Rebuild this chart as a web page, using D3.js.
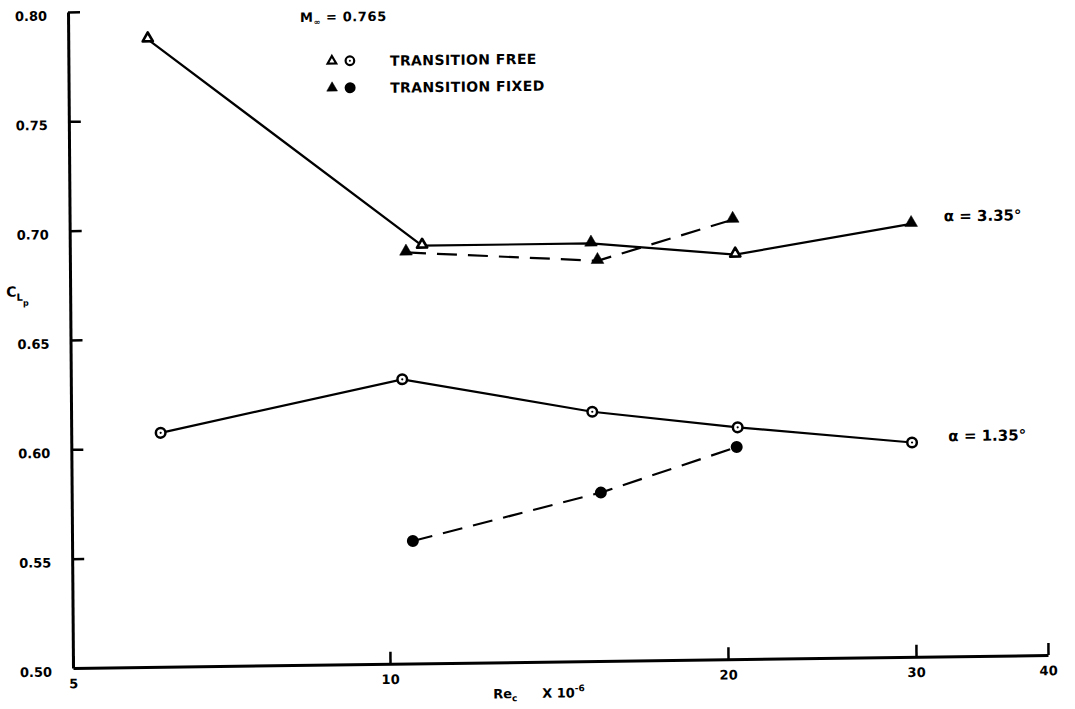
<!DOCTYPE html>
<html><head><meta charset="utf-8">
<script src="https://cdn.jsdelivr.net/npm/d3@7"></script>
<style>
body{margin:0;background:#fff}
text{font-family:"DejaVu Sans","Liberation Sans",Arial,sans-serif;font-weight:bold;fill:#000}
</style>
</head><body><svg id="c" width="1075" height="709"></svg>
<script>
// ---- data ----
const xTickValues = [5, 10, 20, 30, 40];
const xTickLabels = ["5", "10", "20", "30", "40"];
const yTickValues = [0.50, 0.55, 0.60, 0.65, 0.70, 0.75, 0.80];
const yTickLabels = ["0.50", "0.55", "0.60", "0.65", "0.70", "0.75", "0.80"];

// alpha = 3.35 deg
const a335FreeRe  = [5.95, 10.75, 15.2, 20.45, 29.9];
const a335FreeCl  = [0.787, 0.691, 0.691, 0.685, 0.698];
const a335FixedRe = [10.4, 15.4, 20.35];
const a335FixedCl = [0.688, 0.683, 0.701];
// alpha = 1.35 deg
const a135FreeRe  = [6.08, 10.3, 15.2, 20.5, 29.85];
const a135FreeCl  = [0.607, 0.630, 0.614, 0.606, 0.598];
const a135FixedRe = [10.5, 15.45, 20.45];
const a135FixedCl = [0.556, 0.577, 0.597];

const seriesLabels = ["\u03B1 = 3.35\u00B0", "\u03B1 = 1.35\u00B0"];
const legendLabels = ["TRANSITION FREE", "TRANSITION FIXED"];
const machLabel = "0.765";

// ---- drawing ----
const zip = (xs, ys) => xs.map((v, i) => [v, ys[i]]);
const svg = d3.select("#c");
// slight skew of the scanned original
const g = svg.append("g").attr("transform", "matrix(1,-0.01333,0.00762,1,-5.09,0.973)");

const x = d3.scaleLog().domain(xTickValues).range([73, 390, 728, 916, 1048]);
const y = d3.scaleLinear().domain([0.50, 0.80]).range([668, 12]);

const xAxis = d3.axisBottom(x).tickValues(xTickValues)
  .tickFormat((d, i) => xTickLabels[i]).tickSize(-12).tickSizeOuter(0).tickPadding(11);
const yAxis = d3.axisLeft(y).tickValues(yTickValues)
  .tickFormat((d, i) => yTickLabels[i]).tickSize(-12).tickSizeOuter(0).tickPadding(21);

const gx = g.append("g").attr("transform", "translate(0,668)").call(xAxis);
const gy = g.append("g").attr("transform", "translate(73,0)").call(yAxis);
[gx, gy].forEach(a => {
  a.select(".domain").attr("stroke", "#000").attr("stroke-width", 3);
  a.selectAll(".tick line").attr("stroke", "#000").attr("stroke-width", 2.5);
  a.selectAll("text").attr("font-family", null).attr("font-size", 13).attr("fill", "#000");
});
gy.selectAll("text").attr("dy", "0.6em");
gy.select(".tick:first-of-type line").remove();

const line = d3.line().x(d => x(d[0])).y(d => y(d[1]));

function drawLine(pts, dashed) {
  g.append("path").datum(pts).attr("d", line)
    .attr("fill", "none").attr("stroke", "#000").attr("stroke-width", 2.2)
    .attr("stroke-dasharray", dashed ? "20,11" : null);
}
const triFilled = d3.symbol(d3.symbolTriangle, 70)();
const triOpen = d3.symbol(d3.symbolTriangle, 45)();

function triangles(pts, filledIdx) {
  pts.forEach((p, i) => {
    const f = filledIdx.includes(i);
    g.append("path").attr("d", f ? triFilled : triOpen)
      .attr("transform", `translate(${x(p[0])},${y(p[1]) - 1})`)
      .attr("fill", f ? "#000" : "#fff").attr("stroke", "#000")
      .attr("stroke-width", f ? 0.5 : 2.6).attr("stroke-linejoin", "round");
  });
}
function circles(pts, filled) {
  pts.forEach(p => {
    g.append("circle").attr("cx", x(p[0])).attr("cy", y(p[1]))
      .attr("r", filled ? 6 : 4.8)
      .attr("fill", filled ? "#000" : "#fff").attr("stroke", "#000")
      .attr("stroke-width", filled ? 0 : 2.5);
    if (!filled) g.append("circle").attr("cx", x(p[0])).attr("cy", y(p[1])).attr("r", 1.1).attr("fill", "#000");
  });
}

const s1 = zip(a335FreeRe, a335FreeCl), s2 = zip(a335FixedRe, a335FixedCl);
const s3 = zip(a135FreeRe, a135FreeCl), s4 = zip(a135FixedRe, a135FixedCl);
drawLine(s1, false); drawLine(s2, true); drawLine(s3, false); drawLine(s4, true);
triangles(s1, [2, 4]);       // two free-transition markers appear solid in the scan
triangles(s2, [0, 1, 2]);
circles(s3, false);
circles(s4, true);

// series labels
g.append("text").attr("x", 947).attr("y", 233).attr("font-size", 15).text(seriesLabels[0]);
g.append("text").attr("x", 950).attr("y", 453).attr("font-size", 15).text(seriesLabels[1]);

// title M_inf
const t = g.append("text").attr("x", 305).attr("y", 25).attr("font-size", 13).attr("letter-spacing", 0.6);
t.append("tspan").text("M");
t.append("tspan").attr("font-size", 8).attr("dy", 3).text("\u221E");
t.append("tspan").attr("dy", -3).text(" = " + machLabel);

// legend
const lg = [[64.5, false], [91.5, true]];
lg.forEach(([ly, filled], i) => {
  g.append("path").attr("d", d3.symbol(d3.symbolTriangle, filled ? 50 : 32)())
    .attr("transform", `translate(336.5,${ly})`)
    .attr("fill", filled ? "#000" : "#fff").attr("stroke", "#000").attr("stroke-width", filled ? 0.5 : 2.2);
  g.append("circle").attr("cx", 354.5).attr("cy", ly).attr("r", filled ? 5.5 : 4.3)
    .attr("fill", filled ? "#000" : "#fff").attr("stroke", "#000").attr("stroke-width", filled ? 0 : 2.2);
  if (!filled) g.append("circle").attr("cx", 354.5).attr("cy", ly).attr("r", 1).attr("fill", "#000");
  g.append("text").attr("x", 394.5).attr("y", ly + 5.5).attr("font-size", 14).attr("letter-spacing", 0.4).text(legendLabels[i]);
});

// y axis title C_L_p
const yt = g.append("text").attr("x", 9).attr("y", 296).attr("font-size", 14);
yt.append("tspan").text("C");
yt.append("tspan").attr("font-size", 10).attr("dy", 4).text("L");
yt.append("tspan").attr("font-size", 8).attr("dy", 5).text("p");

// x axis title Re_c X 10^-6
const xt = g.append("text").attr("x", 493).attr("y", 704).attr("font-size", 13);
xt.append("tspan").text("Re");
xt.append("tspan").attr("font-size", 9).attr("dy", 3).text("c");
const xt2 = g.append("text").attr("x", 542).attr("y", 704).attr("font-size", 13);
xt2.append("tspan").text("X 10");
xt2.append("tspan").attr("font-size", 9).attr("dy", -6).text("-6");
</script>
</body></html>
